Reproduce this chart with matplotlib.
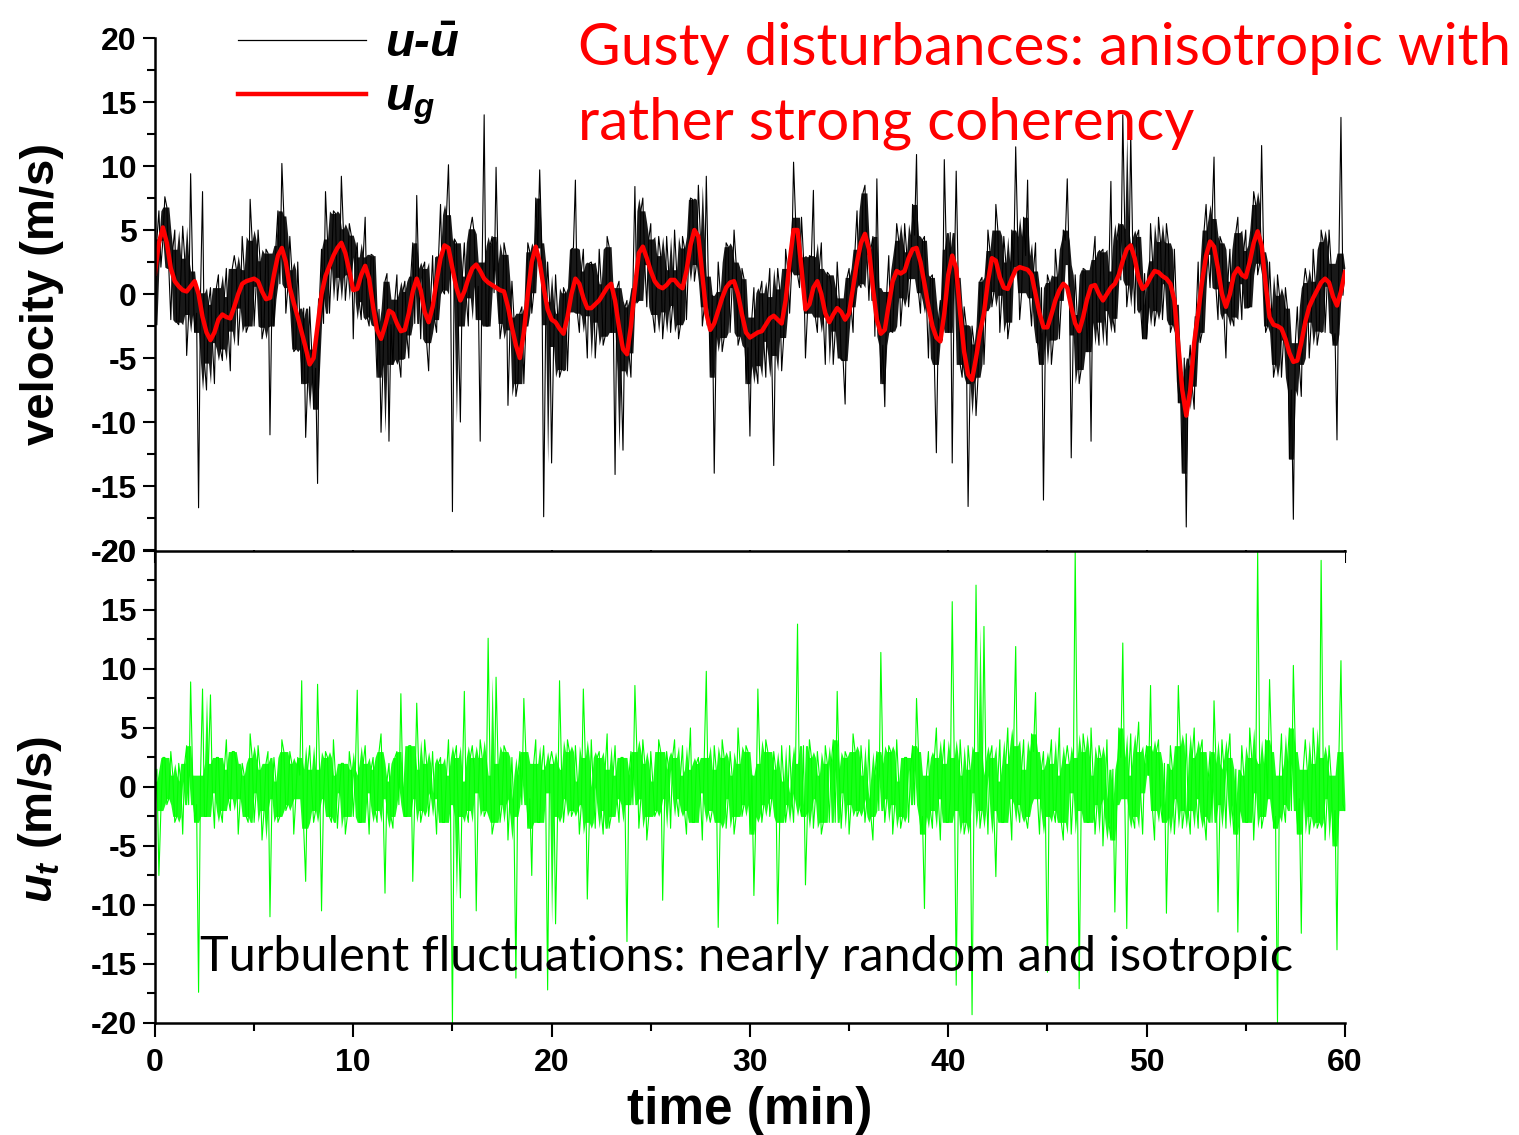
import numpy as np
import matplotlib.pyplot as plt
from matplotlib.ticker import MultipleLocator
from numpy.lib.stride_tricks import sliding_window_view

plt.rcParams['font.family'] = ['Liberation Sans', 'DejaVu Sans']
plt.rcParams['font.weight'] = 'bold'
plt.rcParams['axes.unicode_minus'] = False
plt.rcParams['mathtext.fontset'] = 'custom'
plt.rcParams['mathtext.it'] = 'Liberation Sans:bold:italic'
plt.rcParams['mathtext.rm'] = 'Liberation Sans:bold'
plt.rcParams['mathtext.bf'] = 'Liberation Sans:bold'

# gusty part u_g (m/s), read every 0.2 min
dt_g = 0.2
u_g = [1.6, 4.0, 5.2, 4.0, 2.0, 1.0, 0.6, 0.3, 0.2, 0.6,
       1.0, 0.0, -1.8, -3.0, -3.6, -3.0, -2.0, -1.6, -1.8, -1.9,
       -1.0, 0.0, 0.8, 1.0, 1.1, 1.2, 1.0, 0.2, -0.4, -0.3,
       1.5, 3.0, 3.6, 2.5, 0.5, -0.7, -1.8, -3.0, -4.2, -5.5,
       -5.0, -2.5, 0.0, 1.4, 2.2, 3.0, 3.6, 4.0, 3.2, 1.8,
       0.3, 0.4, 1.5, 2.2, 1.2, -1.0, -2.8, -3.5, -2.5, -1.3,
       -1.5, -2.3, -2.9, -2.8, -1.5, 0.2, 1.2, 0.3, -1.4, -2.2,
       -1.0, 1.0, 2.8, 3.8, 3.6, 2.0, 0.5, -0.5, 0.2, 1.2,
       2.0, 2.3, 1.8, 1.2, 0.9, 0.7, 0.5, 0.3, 0.2, -1.0,
       -2.6, -4.0, -5.0, -3.0, 0.0, 2.5, 3.7, 2.5, 0.5, -1.2,
       -2.0, -2.2, -2.7, -3.1, -1.8, 0.0, 1.2, 0.8, -0.3, -1.1,
       -1.1, -0.8, -0.5, 0.0, 0.5, 0.8, -0.5, -2.6, -4.3, -4.7,
       -2.5, 0.5, 3.2, 3.7, 2.8, 1.8, 1.0, 0.6, 0.45, 0.7,
       1.1, 1.1, 0.7, 0.45, 1.8, 3.8, 5.0, 4.5, 1.5, -1.5,
       -2.8, -2.3, -1.3, -0.3, 0.5, 0.9, 1.0, 0.0, -1.6, -3.0,
       -3.4, -3.2, -3.0, -2.9, -2.4, -1.9, -1.7, -2.0, -2.3, -0.5,
       2.5, 5.0, 5.0, 2.0, -1.2, -0.8, 0.5, 1.0, 0.0, -1.5,
       -2.2, -1.6, -1.1, -1.4, -2.0, -1.5, 0.5, 2.5, 4.0, 4.7,
       3.5, 0.5, -2.0, -3.1, -2.8, -0.8, 1.0, 1.8, 1.6, 1.8,
       2.8, 3.5, 3.6, 2.5, 0.8, -1.0, -2.5, -3.4, -3.7, -1.5,
       1.5, 3.0, 2.0, -1.5, -4.5, -6.3, -6.7, -5.0, -3.0, -1.5,
       1.0, 2.8, 2.6, 1.3, 0.5, 0.4, 1.2, 1.9, 2.1, 2.0,
       1.9, 1.5, 0.0, -1.5, -2.6, -2.6, -1.6, -0.5, 0.3, 0.8,
       0.5, -1.0, -2.3, -2.9, -1.8, -0.4, 0.6, 0.7, 0.0, -0.5,
       0.0, 0.5, 0.8, 1.5, 2.6, 3.5, 3.8, 2.8, 1.2, 0.4,
       0.7, 1.3, 1.8, 1.7, 1.4, 1.2, 0.8, -0.5, -4.0, -7.5,
       -9.5, -7.5, -3.8, -1.5, 1.0, 3.0, 4.1, 3.7, 2.0, 0.0,
       -1.0, 0.0, 1.5, 2.0, 1.5, 1.3, 2.5, 4.0, 4.9, 3.8,
       0.8, -1.8, -2.4, -2.5, -2.7, -3.5, -4.6, -5.3, -5.2, -3.8,
       -2.2, -1.0, -0.3, 0.3, 0.9, 1.2, 0.9, -0.2, -0.9, 0.2,
       1.7]

# u - mean(u) (m/s) at t = 0, 0.2, 0.4 ... 60 min
u_fluct_even = [-2.4, 6.5, 4.2, 6.8, -2.0, 5.0, -2.4, 5.3, -4.8, 9.4,
                -3.0, -16.7, 8.0, -7.5, 0.5, -7.0, 1.5, -5.2, 2.0, -6.0,
                3.0, -4.0, 4.5, -3.0, 7.4, -2.5, 5.0, -3.5, 3.5, -11.0,
                -2.5, 6.5, 10.2, -1.5, 4.5, -4.5, 2.5, -7.0, -11.2, -1.0,
                -9.0, -14.8, 3.5, 8.0, -1.5, 6.5, -0.5, 9.2, -0.5, 5.5,
                -3.5, 4.0, -2.0, 6.0, -2.5, 3.0, -6.5, -10.8, 1.0, -11.5,
                -5.5, 1.5, -6.5, 1.0, -5.0, 4.0, 7.7, -3.5, 2.5, -6.0,
                3.0, -3.0, 7.0, 0.0, 10.1, -17.0, 4.0, -10.0, 4.0, -2.5,
                6.0, -2.0, -11.5, 14.0, -2.5, 4.5, 9.9, -3.5, 4.0, -8.7,
                1.0, -8.0, -1.5, -7.0, 4.0, -1.5, 7.5, 9.7, -17.4, 2.5,
                -13.2, 1.5, -6.5, 0.5, -6.0, 3.5, 8.9, -3.0, 3.5, -5.0,
                2.5, -5.0, 3.5, -4.0, 4.5, -3.0, -14.1, 1.0, -12.2, -0.5,
                -6.5, 8.4, -0.5, 7.5, -1.0, 5.5, -3.0, 4.5, -3.5, 4.5,
                -3.0, 5.0, -3.5, 4.5, -2.0, 7.5, 1.0, 8.5, -2.5, 9.2,
                -6.5, -14.0, 2.5, -4.5, 4.0, -3.0, 5.0, -4.0, 2.0, -7.0,
                -11.1, 0.5, -7.0, 1.0, -6.5, 2.0, -13.4, 2.0, -6.0, 3.5,
                -1.5, 10.3, 1.5, 6.0, -5.0, 3.0, 8.1, -3.0, 4.0, -5.5,
                1.5, -5.5, 2.5, -5.0, -8.6, 2.0, -3.0, 6.5, 0.5, 8.5,
                -0.5, 4.5, 9.0, -7.0, -8.8, 3.0, -3.0, 5.5, -2.5, 5.5,
                -1.0, 7.0, 10.9, -1.5, 4.5, -5.0, 1.5, -12.4, -0.5, 10.5,
                -3.0, -13.2, 9.6, -5.5, -1.0, -16.6, -2.5, -9.5, 1.0, -5.5,
                5.0, -1.0, 7.0, -3.0, 4.5, -3.5, 5.0, 11.5, -2.0, 6.0,
                8.9, -2.5, 4.0, -5.5, -16.1, 1.5, -5.5, 3.5, -3.5, 5.0,
                9.0, -12.8, 1.5, -7.0, 2.0, -4.5, -11.5, 4.5, -4.0, 3.5,
                -4.0, 8.8, -3.0, 5.5, 14.0, -1.0, 12.5, -1.5, 5.0, -3.5,
                -3.5, 5.5, -2.5, 6.0, -2.0, 5.5, -3.0, 3.5, -8.5, -14.0,
                -18.2, -4.0, -9.0, 2.5, -3.0, 7.0, 0.5, 10.7, -2.0, 4.0,
                -5.0, 3.5, -2.5, 6.0, -2.0, 5.0, -1.0, 8.0, 1.5, 11.6,
                -3.0, 2.5, -6.5, 1.5, -6.5, 0.5, -12.9, -17.6, -1.0, -8.0,
                2.0, -5.0, 3.5, -4.0, 5.0, -3.0, 5.0, -4.0, -11.4, 13.8,
                2.0]

# u - mean(u) (m/s) at t = 0.1, 0.3, 0.5 ... 59.9 min
u_fluct_odd = [4.3, 2.1, 7.6, 2.0, 3.5, -2.2, 1.0, 2.8, -1.6, 1.8,
               -1.5, 0.1, -5.4, -0.8, -3.8, 0.5, -4.3, -0.2, -2.9, 2.0,
               2.0, -1.1, 1.9, -2.5, 4.2, 0.6, 2.6, -2.6, 3.2, -0.4,
               3.8, 0.8, 6.1, 0.5, 1.9, -4.3, -1.9, -1.1, -6.9, -4.3,
               -5.8, -0.3, -2.3, 4.3, 2.1, 6.3, 1.3, 5.1, 1.5, 4.6,
               2.9, -0.6, 2.9, -1.8, 3.1, -2.4, -1.2, -5.5, 1.6, -2.4,
               -0.4, -5.1, 0.2, -3.2, 1.4, -2.3, 1.3, 2.0, -3.8, -0.6,
               -2.0, 2.9, 0.3, 6.2, 2.3, 4.3, -2.5, 1.4, -0.3, 5.1,
               4.7, 0.6, 2.5, -2.5, 3.8, 0.1, 2.4, -2.3, 3.1, -2.8,
               -1.8, -7.0, -1.0, -2.5, 3.3, 0.1, 3.6, 4.0, -2.4, -0.6,
               -4.1, -1.5, -5.9, 0.1, -1.4, 3.6, -1.5, 1.8, -1.7, 2.4,
               1.6, -2.2, 0.8, -3.3, 3.7, -0.4, 0.5, -6.0, -1.0, -4.6,
               0.5, -0.7, 6.5, 2.3, 4.3, -1.6, 1.3, 3.0, -1.4, 1.9,
               -0.9, 1.9, -2.4, 3.6, 2.3, 7.4, 2.3, 4.5, -1.0, 1.4,
               -0.1, -3.3, 0.2, -3.4, 3.7, 0.5, 2.5, -3.3, 1.2, -4.2,
               -1.8, -5.6, 0.1, -3.7, -0.2, -4.8, -1.4, 0.4, -3.4, 2.0,
               1.8, 6.0, 0.5, 2.9, -1.5, 2.9, -1.8, 2.0, -1.8, 1.7,
               0.6, -2.9, -0.3, -5.2, 1.3, -1.0, 3.5, 0.8, 7.9, 3.1,
               3.5, -3.3, 0.5, -4.0, 0.2, -2.9, 1.9, 4.2, -0.3, 3.3,
               1.2, 4.6, 0.1, 4.2, -0.6, 1.3, -5.5, -2.1, -3.6, 3.5,
               4.8, 1.0, 1.3, -6.5, -2.4, -7.0, -3.9, -6.5, 1.3, -1.3,
               3.4, 0.2, 5.0, -0.1, 2.5, -2.2, 2.1, 4.5, 0.1, 3.0,
               -0.3, 1.8, -3.8, 0.5, -3.1, 0.9, -3.6, 1.4, -0.5, 4.2,
               2.3, -3.2, -1.6, -5.9, 1.9, -0.4, 2.7, -2.2, 3.3, -1.3,
               1.8, -1.9, 4.2, 1.1, 5.1, 0.7, 3.8, 4.5, -1.2, 1.6,
               -1.0, 2.6, -1.3, 4.1, 0.8, 4.0, -2.4, -0.8, -6.8, -5.0,
               -6.0, -7.2, -1.7, -3.8, 5.0, 3.1, 5.9, 0.4, 4.5, -1.5,
               1.0, -1.8, 4.8, 0.8, 3.4, -1.1, 3.8, 7.0, 2.4, 3.3,
               -2.5, -1.1, -5.5, -0.1, -3.6, -1.1, -7.5, -3.8, -5.5, 0.5,
               0.9, -2.2, 1.0, -2.9, 4.1, 0.6, 2.4, -3.1, 3.2, -0.1]

# turbulent part u_t (m/s) at t = 0, 0.2, 0.4 ... 60 min
u_t_even = [0.5, -7.5, 2.5, -1.5, 3.0, -3.0, 2.0, -4.0, 3.5, 8.9,
            -3.0, -17.4, 8.3, -2.5, 7.8, -3.5, 2.5, -3.0, 4.0, -2.0,
            3.0, -4.0, 2.0, -2.5, 4.5, -3.0, 3.5, -4.5, 2.0, -11.0,
            2.5, -3.0, 4.0, -2.0, 3.0, -4.0, 2.5, 9.0, -8.0, 3.5,
            -3.0, 8.7, -10.5, 3.0, -2.5, 4.0, -3.5, 2.0, -4.0, 3.0,
            -2.5, 8.2, -3.0, 3.5, -4.0, 2.5, -3.0, 4.5, -9.0, 2.0,
            -3.5, 3.0, 7.9, -2.5, 3.5, -8.0, 7.1, -3.0, 4.0, -2.5,
            3.0, -4.0, 2.5, -3.0, 4.0, -20.0, 3.5, -9.4, 8.1, -3.0,
            3.5, -10.5, 4.0, -2.5, 12.6, -4.0, 9.3, -3.0, 3.5, -4.5,
            2.5, -16.2, 3.0, 7.5, -3.5, -7.5, 4.0, -3.0, 3.5, -17.2,
            3.0, -11.6, 9.0, -3.0, 4.0, -2.5, 3.5, -4.0, 8.3, -9.5,
            4.0, -3.5, 3.0, -4.0, 4.5, -2.5, 3.5, -3.0, 2.5, -13.1,
            3.0, 8.6, -3.5, 4.0, -4.5, 3.0, -2.5, 4.0, -9.6, 3.0,
            -3.5, 4.0, -2.5, 3.5, -4.0, 5.0, -3.0, 2.5, -4.5, 9.8,
            -3.0, 3.5, -11.9, 4.0, -3.5, 3.0, -4.0, 5.0, -2.5, 3.5,
            -4.0, -9.2, 8.3, -3.0, 4.0, -2.5, 3.0, -11.6, 3.5, -3.0,
            3.5, -3.0, 13.8, -2.5, -8.3, 4.0, -3.5, 3.0, -4.0, 3.5,
            -3.0, 4.0, 8.1, -3.5, 3.0, -4.0, 4.5, -2.5, 3.5, -3.0,
            4.0, -4.5, 3.0, 11.4, -3.0, 3.5, -4.0, 4.0, -3.5, 2.5,
            -3.0, 3.5, 7.5, -4.0, -10.3, 3.0, -3.5, 5.0, -4.5, 4.0,
            -3.0, 15.7, -16.8, 4.0, -4.0, 3.5, -19.3, 17.1, -3.5, 13.6,
            -4.0, 3.5, -7.6, 4.0, -3.0, 5.0, -4.5, 11.9, -3.0, 4.0,
            -3.5, 4.5, 8.0, -4.0, 3.0, -15.7, 4.0, -3.0, 5.0, -4.5,
            3.5, -4.0, 20.0, -17.1, 4.5, -3.0, 5.0, -4.0, 3.5, -5.0,
            4.0, -4.5, -10.6, 5.0, 12.2, -12.0, 4.5, -3.5, 5.5, -4.0,
            3.5, 8.6, -4.5, 4.0, -3.0, -10.7, 3.5, -4.0, 8.6, -3.5,
            4.5, -4.0, 5.0, -3.5, 4.0, -4.5, 3.0, 7.3, -10.6, 4.0,
            -3.5, 4.5, -4.0, -12.3, 3.5, -3.0, 5.0, -4.5, 20.0, -3.5,
            4.0, 9.1, -3.5, -20.0, 4.5, -3.0, 5.0, 10.3, -4.0, -12.4,
            4.0, -4.0, 5.0, -3.5, 19.2, -4.5, 3.5, -5.0, -13.8, 10.7,
            -2.0]

# turbulent part u_t (m/s) at t = 0.1, 0.3, 0.5 ... 59.9 min
u_t_odd = [1.5, -2.0, 2.5, -1.0, 1.0, -2.5, 0.5, 2.0, -1.5, 1.0,
           -1.5, 1.0, -2.5, 2.0, -0.5, 2.5, -2.0, 1.5, -1.0, 3.0,
           2.0, -1.0, 1.0, -3.0, 2.5, -0.5, 1.5, -2.0, 3.0, -1.0,
           0.5, -2.5, 3.0, -1.5, 2.0, -1.0, 1.0, -3.5, 1.5, 0.0,
           -2.0, 1.5, -1.0, 2.5, -3.0, 1.0, -0.5, 2.0, -2.5, 1.5,
           1.0, -3.0, 2.0, -0.5, 1.5, -2.0, 3.0, -1.0, 0.5, -2.5,
           2.5, -1.5, 0.0, -2.5, 3.5, -1.0, 1.5, -2.0, 2.0, -0.5,
           -1.0, 2.0, -3.0, 1.0, -1.5, 2.5, -2.5, 0.5, -2.0, 2.5,
           1.5, -0.5, 2.5, -2.0, 1.0, -3.0, 2.0, -1.5, 3.0, -1.0,
           -2.5, 1.0, -1.5, 3.0, -1.0, 2.0, -3.0, 1.5, -0.5, 2.0,
           2.0, -2.5, 1.5, -1.0, 3.0, -2.0, 0.5, -1.5, 2.5, -3.0,
           0.0, 2.5, -2.0, 1.5, -3.5, 1.0, -1.0, 2.5, -1.5, 1.0,
           -1.5, 3.0, -1.0, 2.0, -2.5, 0.5, -2.0, 3.0, -1.0, 1.5,
           2.5, -1.0, 1.0, -2.0, 1.5, -3.0, 2.0, -0.5, 2.5, -2.0,
           -2.0, 1.5, -3.0, 2.5, -1.0, 1.0, -2.5, 2.0, -1.5, 3.0,
           1.0, -2.5, 2.0, -1.5, 3.0, -1.0, 1.5, -3.0, 0.5, -1.5,
           -0.5, 2.0, -1.5, 3.5, -2.0, 2.5, -1.0, 1.0, -3.0, 2.0,
           2.0, -3.0, 1.5, -0.5, 2.5, -1.5, 3.0, -2.0, 1.0, -1.0,
           -2.5, 1.0, -2.0, 2.0, -1.0, 3.0, -1.5, 0.5, -2.5, 2.5,
           1.5, -1.5, 3.0, -2.5, 1.0, -2.0, 2.5, -1.0, 2.0, -3.0,
           -1.0, 2.5, -2.0, 1.0, -3.0, 1.5, -0.5, 3.0, -2.0, 1.0,
           2.5, -2.0, 0.5, -3.0, 2.0, -1.0, 3.5, -1.5, 1.5, -2.5,
           -1.5, 3.0, -1.0, 1.5, -2.5, 2.0, -2.0, 1.0, -3.0, 2.0,
           2.0, -0.5, 2.5, -2.0, 3.0, -3.0, 1.0, -1.5, 2.5, -1.0,
           -3.0, 1.5, -1.5, 2.5, -1.0, 1.0, -2.5, 3.0, -0.5, 2.0,
           1.0, -2.0, 3.0, -1.5, 2.0, -2.5, 1.5, -1.0, 3.5, -2.0,
           -2.0, 2.5, -1.0, 3.0, -2.5, 0.5, -3.0, 2.0, -1.5, 1.5,
           2.5, -1.5, 1.5, -2.0, 1.0, -3.0, 2.5, -0.5, 2.0, -2.5,
           -1.0, 3.0, -2.5, 1.0, -1.5, 2.0, -2.0, 3.0, -1.0, 1.5,
           1.5, -2.5, 2.0, -3.0, 2.5, -1.0, 1.0, -2.0, 3.0, -1.5]

# merge the two sample sets into one 0.1-min record
dt = 0.1
u_fluct = np.empty(len(u_fluct_even) + len(u_fluct_odd))
u_fluct[0::2] = u_fluct_even
u_fluct[1::2] = u_fluct_odd
u_t = np.empty(len(u_t_even) + len(u_t_odd))
u_t[0::2] = u_t_even
u_t[1::2] = u_t_odd
t = np.arange(len(u_fluct)) * dt
t_g = np.arange(len(u_g)) * dt_g


def draw_dense(ax, x, y, color, alpha, lw, win=5):
    # the real record is far denser than one sample per pixel, so the screen
    # shows a solid core: shade the trimmed local range (drops the single
    # highest and lowest sample of each window) and trace the samples on top
    pad = win // 2
    yp = np.pad(y, pad, mode='edge')
    s = np.sort(sliding_window_view(yp, win), axis=1)
    ax.fill_between(x, s[:, 1], s[:, -2], color=color, alpha=alpha, lw=0)
    ax.plot(x, y, color=color, lw=lw)


fig = plt.figure(figsize=(15.19, 11.35), dpi=100)
ax1 = fig.add_axes([0.102, 0.5154, 0.7834, 0.4511])
ax2 = fig.add_axes([0.102, 0.0987, 0.7834, 0.4159])

# ---- top: u - ubar and u_g
draw_dense(ax1, t, u_fluct, 'black', 0.9, 0.8)
ax1.plot(t_g, u_g, color='#ff0000', lw=3.2, solid_joinstyle='round')
ax1.plot([], [], color='black', lw=0.9, label=r'$u$-$\bar{u}$')
ax1.plot([], [], color='#ff0000', lw=3.2, label=r'$u_g$')
ax1.set_xlim(0, 60)
ax1.set_ylim(-20, 20)
for s in ['top', 'right', 'bottom']:
    ax1.spines[s].set_visible(False)
ax1.spines['left'].set_linewidth(1.8)
ax1.xaxis.set_major_locator(MultipleLocator(10))
ax1.xaxis.set_minor_locator(MultipleLocator(5))
ax1.tick_params(axis='x', which='major', direction='out', length=9, width=1.5, labelbottom=False)
ax1.tick_params(axis='x', which='minor', direction='out', length=6, width=1.5)
ax1.yaxis.set_major_locator(MultipleLocator(5))
ax1.yaxis.set_minor_locator(MultipleLocator(2.5))
ax1.tick_params(axis='y', which='major', direction='out', length=9, width=1.5, labelsize=23, pad=4)
ax1.tick_params(axis='y', which='minor', direction='out', length=6, width=1.5)
ax1.set_ylabel('velocity (m/s)', fontsize=34, fontweight='bold')
ax1.yaxis.set_label_coords(-0.076, 0.5)

ax1.legend(loc='upper left', bbox_to_anchor=(0.07, 1.03), frameon=False,
           prop=dict(size=34, weight='bold', style='italic'),
           handlelength=2.7, handletextpad=0.4, labelspacing=0.2,
           borderpad=0, borderaxespad=0)

# ---- bottom: u_t
draw_dense(ax2, t, u_t, '#00ff00', 0.9, 0.8)
ax2.set_xlim(0, 60)
ax2.set_ylim(-20, 20)
ax2.spines['right'].set_visible(False)
for s in ['left', 'bottom', 'top']:
    ax2.spines[s].set_linewidth(1.8)
ax2.xaxis.set_major_locator(MultipleLocator(10))
ax2.xaxis.set_minor_locator(MultipleLocator(5))
ax2.tick_params(axis='x', which='major', direction='out', length=10, width=1.5, labelsize=23, pad=8)
ax2.tick_params(axis='x', which='minor', direction='out', length=6, width=1.5)
ax2.yaxis.set_major_locator(MultipleLocator(5))
ax2.yaxis.set_minor_locator(MultipleLocator(2.5))
ax2.tick_params(axis='y', which='major', direction='out', length=9, width=1.5, labelsize=23, pad=4)
ax2.tick_params(axis='y', which='minor', direction='out', length=6, width=1.5)
ax2.set_ylabel(r'$u_t$ (m/s)', fontsize=34, fontweight='bold')
ax2.yaxis.set_label_coords(-0.076, 0.43)
ax2.set_xlabel('time (min)', fontsize=37, fontweight='bold')
ax2.xaxis.set_label_coords(0.5, -0.133)
ax2.xaxis.label.set_va('top')

# ---- annotations
fig.text(0.3805, 0.981, 'Gusty disturbances: anisotropic with\nrather strong coherency',
         color='#ff0000', fontsize=42, fontweight='normal', va='top', ha='left',
         linespacing=1.52, family=['Lato', 'DejaVu Sans'])
ax2.text(0.0378, 0.11, 'Turbulent fluctuations: nearly random and isotropic',
         transform=ax2.transAxes, color='black', fontsize=35, fontweight='normal',
         va='baseline', ha='left', family=['Lato', 'DejaVu Sans'])

fig.savefig('out.png', dpi=100)
